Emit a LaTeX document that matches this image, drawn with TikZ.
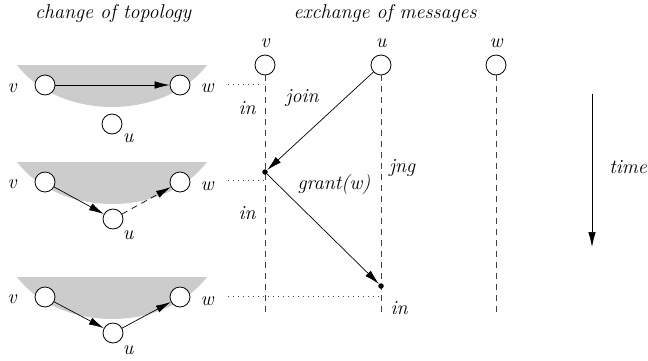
\documentclass[tikz,border=0pt]{standalone}
\usetikzlibrary{arrows.meta}
\begin{document}
\begin{tikzpicture}[x=1pt,y=-1pt,
  font=\fontsize{20}{23}\selectfont\itshape,
  proc/.style={circle,draw,line width=0.8pt,minimum size=20pt,inner sep=0pt,fill=white},
  ev/.style={circle,fill=black,minimum size=5.5pt,inner sep=0pt},
  msg/.style={line width=0.7pt,-{Latex[length=15pt,width=7.5pt]}},
  life/.style={black!75,line width=0.8pt,dash pattern=on 6pt off 5pt},
  lvl/.style={black!75,line width=0.8pt,dash pattern=on 1pt off 4pt},
  lens/.style={fill=black!20,draw=none},
  lbl/.style={inner sep=0pt}]
\useasboundingbox (0,0) rectangle (648,360);
% titles
\node[lbl] (t1) at (113,13) {change of topology};
\node[lbl] (t2) at (385,13) {exchange of messages};
% group 1
\fill[lens] (17,65) -- (207,65) .. controls (164,121) and (60,121) .. (17,65) -- cycle;
\node[proc] (v1) at (45,85) {};
\node[proc] (w1) at (180,85) {};
\node[proc] (u1) at (112,124) {};
\node[lbl] (lv1) at (12,88) {v};
\node[lbl] (lw1) at (207,88) {w};
\node[lbl] (lu1) at (128,138) {u};
\draw[msg] (v1) -- (w1);
% group 2
\fill[lens] (17,162) -- (207,162) .. controls (164,218) and (60,218) .. (17,162) -- cycle;
\node[proc] (v2) at (45,182) {};
\node[proc] (w2) at (180,182) {};
\node[proc] (u2) at (113,219) {};
\node[lbl] (lv2) at (12,184) {v};
\node[lbl] (lw2) at (207,186) {w};
\node[lbl] (lu2) at (128,235) {u};
\draw[msg] (v2) -- (u2);
\draw[msg,dash pattern=on 6pt off 5pt] (u2) -- (w2);
% group 3
\fill[lens] (17,277) -- (207,277) .. controls (164,333) and (60,333) .. (17,277) -- cycle;
\node[proc] (v3) at (45,297) {};
\node[proc] (w3) at (180,297) {};
\node[proc] (u3) at (113,333) {};
\node[lbl] (lv3) at (12,299) {v};
\node[lbl] (lw3) at (207,301) {w};
\node[lbl] (lu3) at (128,350) {u};
\draw[msg] (v3) -- (u3);
\draw[msg] (u3) -- (w3);
% message diagram
\node[proc] (pv) at (265,65) {};
\node[proc] (pu) at (381,65) {};
\node[proc] (pw) at (496,65) {};
\node[lbl] (lpv) at (265,43) {v};
\node[lbl] (lpu) at (381,43) {u};
\node[lbl] (lpw) at (496,43) {w};
\coordinate (ev) at (265,314);
\coordinate (eu) at (381,316);
\coordinate (ew) at (496,314);
\draw[life] (pv.south) -- (ev);
\draw[life] (pu.south) -- (eu);
\draw[life] (pw.south) -- (ew);
\node[ev] (d1) at (265,172) {};
\node[ev] (d2) at (381,286) {};
\coordinate (a1) at (228,84);
\coordinate (b1) at (263,84);
\coordinate (a2) at (228,180);
\coordinate (b2) at (264,180);
\coordinate (a3) at (228,296);
\coordinate (b3) at (381,296);
\draw[lvl] (a1) -- (b1);
\draw[lvl] (a2) -- (b2);
\draw[lvl] (a3) -- (b3);
\draw[msg] (pu) -- (d1);
\draw[msg] (d1) -- (d2);
\node[lbl] (in1) at (247,108) {in};
\node[lbl] (in2) at (247,213) {in};
\node[lbl] (in3) at (399,308) {in};
\node[lbl] (join) at (302,98) {join};
\node[lbl] (jng) at (402,168) {jng};
\node[lbl] (grant) at (334,185) {grant(w)};
% time
\coordinate (ts) at (592,94);
\coordinate (te) at (592,247);
\draw[msg] (ts) -- (te);
\node[lbl] (time) at (628,167) {time};
\end{tikzpicture}
\end{document}
